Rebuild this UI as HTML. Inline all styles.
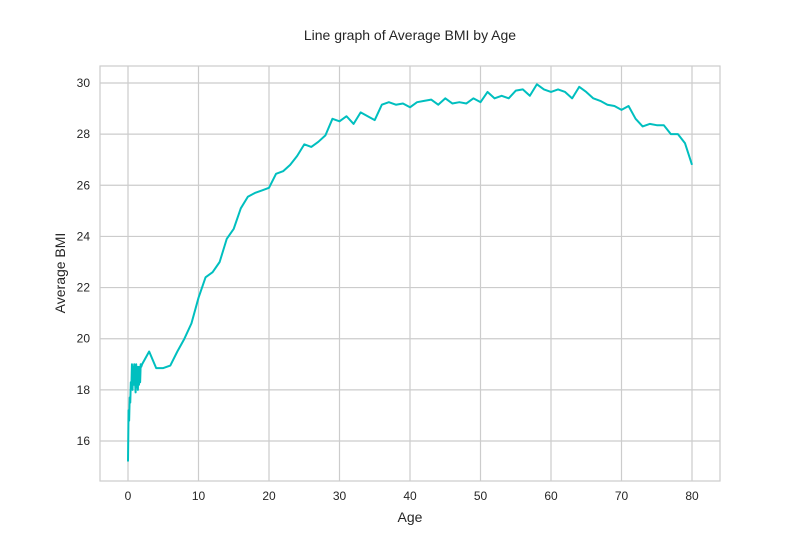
<!DOCTYPE html>
<html><head><meta charset="utf-8"><style>
body{margin:0;background:#fff;}
svg{display:block;font-family:"Liberation Sans",Arial,sans-serif;}
</style></head><body>
<svg id="chart" width="800" height="550">
<rect width="800" height="550" fill="#fff"/>
<text x="410" y="40" text-anchor="middle" font-size="14" fill="#262626">Line graph of Average BMI by Age</text>
<g id="grid"></g>
<g id="ticks"></g>
<rect x="100" y="66" width="620" height="415" fill="none" stroke="#cccccc" stroke-width="1.2"/>
<g id="series"></g>
<text x="410" y="522" text-anchor="middle" font-size="14" fill="#262626">Age</text>
<text x="65" y="273" text-anchor="middle" font-size="14" fill="#262626" transform="rotate(-90 65 273)">Average BMI</text>
</svg>
<script>
const xTicks=[0,10,20,30,40,50,60,70,80];
const yTicks=[16,18,20,22,24,26,28,30];
const ages=[0,0.08,0.16,0.24,0.32,0.4,0.48,0.56,0.64,0.72,0.8,0.88,1.08,1.16,1.24,1.32,1.4,1.48,1.56,1.64,1.72,1.8,1.88,
2,3,4,5,6,7,8,9,10,11,12,13,14,15,16,17,18,19,20,21,22,23,24,25,26,27,28,29,30,31,32,33,34,35,36,37,38,39,40,41,42,43,44,45,46,47,48,49,50,51,52,53,54,55,56,57,58,59,60,61,62,63,64,65,66,67,68,69,70,71,72,73,74,75,76,77,78,79,80];
const bmi=[15.2,17.2,16.8,17.7,17.5,18.3,18.1,19.0,18.0,18.9,18.2,19.0,17.9,19.0,18.1,18.9,18.0,18.9,18.2,18.9,18.3,19.0,18.9,
19.0,19.5,18.85,18.85,18.95,19.5,20.0,20.6,21.6,22.4,22.6,23.0,23.9,24.3,25.1,25.55,25.7,25.8,25.9,26.45,26.55,26.8,27.15,27.6,27.5,27.7,27.95,28.6,28.5,28.7,28.4,28.85,28.7,28.55,29.15,29.25,29.15,29.2,29.05,29.25,29.3,29.35,29.15,29.4,29.2,29.25,29.2,29.4,29.25,29.65,29.4,29.5,29.4,29.7,29.75,29.5,29.95,29.75,29.65,29.75,29.65,29.4,29.85,29.65,29.4,29.3,29.15,29.1,28.95,29.1,28.6,28.3,28.4,28.35,28.35,28.0,28.0,27.65,26.8];
const NS="http://www.w3.org/2000/svg";
const xS=v=>128+v*(692-128)/80;
const yS=v=>441-(v-16)*(441-83)/14;
function mk(t,a,p){const e=document.createElementNS(NS,t);for(const k in a)e.setAttribute(k,a[k]);p.appendChild(e);return e;}
const grid=document.getElementById('grid'),ticks=document.getElementById('ticks'),series=document.getElementById('series');
xTicks.forEach(v=>{
 const l=mk('line',{x1:xS(v),x2:xS(v),y1:66,y2:481,stroke:'#cccccc','stroke-width':1.2},grid);
 
 
 const t=mk('text',{x:xS(v),y:500,'text-anchor':'middle','font-size':12,fill:'#262626'},ticks);
 t.textContent=v;
 
 
});
yTicks.forEach(v=>{
 const l=mk('line',{x1:100,x2:720,y1:yS(v),y2:yS(v),stroke:'#cccccc','stroke-width':1.2},grid);
 
 
 const t=mk('text',{x:90,y:yS(v)+4,'text-anchor':'end','font-size':12,fill:'#262626'},ticks);
 t.textContent=v;
 
 
});
const d=ages.map((a,i)=>(i?'L':'M')+xS(a).toFixed(2)+' '+yS(bmi[i]).toFixed(2)).join(' ');
const p=mk('path',{d:d,fill:'none',stroke:'#00bfbf','stroke-width':2,'stroke-linejoin':'round'},series);


</script>
</body></html>
